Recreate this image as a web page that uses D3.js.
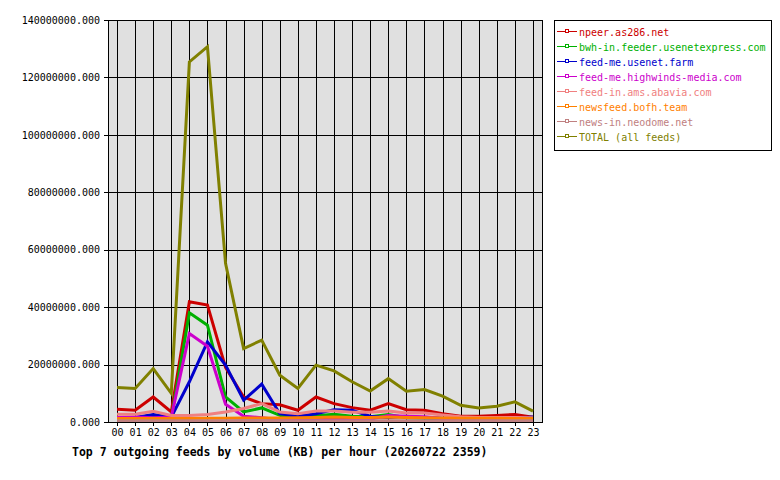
<!DOCTYPE html>
<html>
<head>
<meta charset="utf-8">
<script src="https://cdn.jsdelivr.net/npm/d3@7"></script>
<style>
  body { margin: 0; background: #fff; }
  text { font-family: "DejaVu Sans Mono", "Liberation Mono", monospace; }
</style>
</head>
<body>
<div id="chart"></div>
<script>
// hours of the day
var hours = ["00","01","02","03","04","05","06","07","08","09","10","11",
             "12","13","14","15","16","17","18","19","20","21","22","23"];

// values in millions of KB
var npeer     = [4.4,4.1,8.7,3.5,41.9,40.7,19.0,8.7,6.4,6.0,4.1,8.7,6.4,5.0,4.1,6.4,4.3,4.1,2.9,2.0,2.0,2.3,2.6,1.7];
var bwh       = [1.2,1.0,2.1,1.2,38.0,33.7,8.7,3.5,4.9,2.3,1.5,2.2,2.7,2.0,1.8,2.6,1.5,1.3,1.2,1.0,1.0,1.0,1.0,1.0];
var farm      = [1.5,1.6,2.6,1.7,14.0,27.9,19.8,7.6,13.2,2.9,2.0,2.9,4.3,4.1,2.0,1.6,2.0,1.5,1.3,1.2,1.2,1.2,1.3,1.7];
var highwinds = [1.6,1.7,1.5,1.7,30.8,26.4,6.2,2.0,1.5,0.8,0.7,0.8,1.2,1.0,1.0,2.3,2.0,1.8,1.2,0.8,0.7,0.7,0.8,0.8];
var abavia    = [2.7,2.7,3.7,2.3,2.3,2.6,3.5,4.7,6.4,3.5,2.9,3.8,3.8,3.4,3.4,3.8,3.1,3.1,2.4,1.8,1.6,1.6,1.6,1.5];
var bofh      = [1.2,1.2,1.2,1.2,1.2,1.3,1.3,1.4,1.4,1.4,1.5,1.6,1.7,1.6,1.6,1.7,1.6,1.5,1.4,1.3,1.3,1.3,1.2,1.2];
var neodome   = [0.4,0.4,0.4,0.4,0.4,0.4,0.4,0.5,0.5,0.4,0.4,0.4,0.4,0.4,0.4,0.4,0.4,0.4,0.4,0.4,0.4,0.4,0.4,0.4];
var total     = [12.0,11.7,18.6,10.0,125.4,130.7,55.3,25.6,28.5,16.3,11.7,19.8,17.8,14.0,10.8,15.1,10.7,11.3,9.0,5.8,4.9,5.5,7.0,3.8];

var feedNames  = ["npeer.as286.net","bwh-in.feeder.usenetexpress.com","feed-me.usenet.farm",
                  "feed-me.highwinds-media.com","feed-in.ams.abavia.com","newsfeed.bofh.team",
                  "news-in.neodome.net","TOTAL (all feeds)"];
var feedValues = [npeer, bwh, farm, highwinds, abavia, bofh, neodome, total];
var feedColors = ["#cc0000","#00b000","#0000cc","#cc00cc","#f08080","#ff8000","#c08080","#808000"];

var yTicks = [0,20,40,60,80,100,120,140];
var chartTitle = "Top 7 outgoing feeds by volume (KB) per hour (20260722 2359)";

var width = 780, height = 480;
var plot = {left:108, right:542, top:20, bottom:422};

var svg = d3.select("#chart").append("svg")
            .attr("width", width)
            .attr("height", height);

var xScale = d3.scalePoint()
               .domain(hours)
               .range([plot.left, plot.right])
               .padding(0.5);

var yScale = d3.scaleLinear()
               .domain([0,140])
               .range([plot.bottom, plot.top]);

/* plot background */
svg.append("rect")
   .attr("x", plot.left)
   .attr("y", plot.top)
   .attr("width", plot.right - plot.left)
   .attr("height", plot.bottom - plot.top)
   .attr("fill", "#e0e0e0");

/* grid */
var grid_x = d3.axisBottom(xScale)
               .tickSize(-(plot.bottom - plot.top))
               .tickFormat("");
var grid_y = d3.axisLeft(yScale)
               .tickValues(yTicks)
               .tickSize(-(plot.right - plot.left))
               .tickFormat("");

svg.append("g")
   .attr("class","grid")
   .attr("transform","translate(0," + plot.bottom + ")")
   .call(grid_x);
svg.append("g")
   .attr("class","grid")
   .attr("transform","translate(" + plot.left + ",0)")
   .call(grid_y);

svg.selectAll(".grid .domain").remove();
svg.selectAll(".grid line")
   .attr("stroke","#000")
   .attr("stroke-width",1)
   .attr("shape-rendering","crispEdges");

/* axes */
var axis_x = d3.axisBottom(xScale).tickSize(4).tickPadding(3);
var axis_y = d3.axisLeft(yScale)
               .tickValues(yTicks)
               .tickSize(4)
               .tickPadding(4)
               .tickFormat(function(d){ return d3.format(".3f")(d * 1e6); });

svg.append("g")
   .attr("class","axis")
   .attr("transform","translate(0," + plot.bottom + ")")
   .call(axis_x);
svg.append("g")
   .attr("class","axis")
   .attr("transform","translate(" + plot.left + ",0)")
   .call(axis_y);

svg.selectAll(".axis .domain").remove();
svg.selectAll(".axis line")
   .attr("stroke","#000")
   .attr("shape-rendering","crispEdges");
svg.selectAll(".axis text")
   .attr("fill","#000")
   .style("font-size","10px");

/* series */
var line = d3.line()
             .x(function(d,i){ return xScale(hours[i]); })
             .y(function(d){ return yScale(d); });

svg.append("g")
   .selectAll("path")
   .data(feedValues)
   .enter()
   .append("path")
   .attr("d", function(d){ return line(d); })
   .attr("fill","none")
   .attr("stroke", function(d,i){ return feedColors[i]; })
   .attr("stroke-width",3)
   .attr("stroke-linejoin","miter");

/* plot frame */
svg.append("rect")
   .attr("x", plot.left)
   .attr("y", plot.top)
   .attr("width", plot.right - plot.left)
   .attr("height", plot.bottom - plot.top)
   .attr("fill","none")
   .attr("stroke","#000")
   .attr("shape-rendering","crispEdges");

/* legend */
var legend = svg.append("g").attr("transform","translate(554,20)");
legend.append("rect")
      .attr("width",217)
      .attr("height",130)
      .attr("fill","#fff")
      .attr("stroke","#000")
      .attr("shape-rendering","crispEdges");

var legend_item = legend.selectAll(".item")
                        .data(feedNames)
                        .enter()
                        .append("g")
                        .attr("class","item")
                        .attr("transform",function(d,i){ return "translate(0," + (11 + i*15) + ")"; });

legend_item.append("line")
           .attr("x1",3).attr("x2",23)
           .attr("y1",0).attr("y2",0)
           .attr("stroke",function(d,i){ return feedColors[i]; })
           .attr("stroke-width",1)
           .attr("shape-rendering","crispEdges");
legend_item.append("rect")
           .attr("x",11).attr("y",-1.5)
           .attr("width",3).attr("height",3)
           .attr("fill","#fff")
           .attr("stroke",function(d,i){ return feedColors[i]; })
           .attr("shape-rendering","crispEdges");
legend_item.append("text")
           .attr("x",25)
           .attr("y",2)
           .attr("dy","0.32em")
           .attr("fill",function(d,i){ return feedColors[i]; })
           .style("font-size","10px")
           .text(function(d){ return d; });

/* title */
svg.append("text")
   .attr("x",72)
   .attr("y",456)
   .attr("fill","#000")
   .style("font-size","11.5px")
   .style("font-weight","bold")
   .text(chartTitle);
</script>
</body>
</html>
